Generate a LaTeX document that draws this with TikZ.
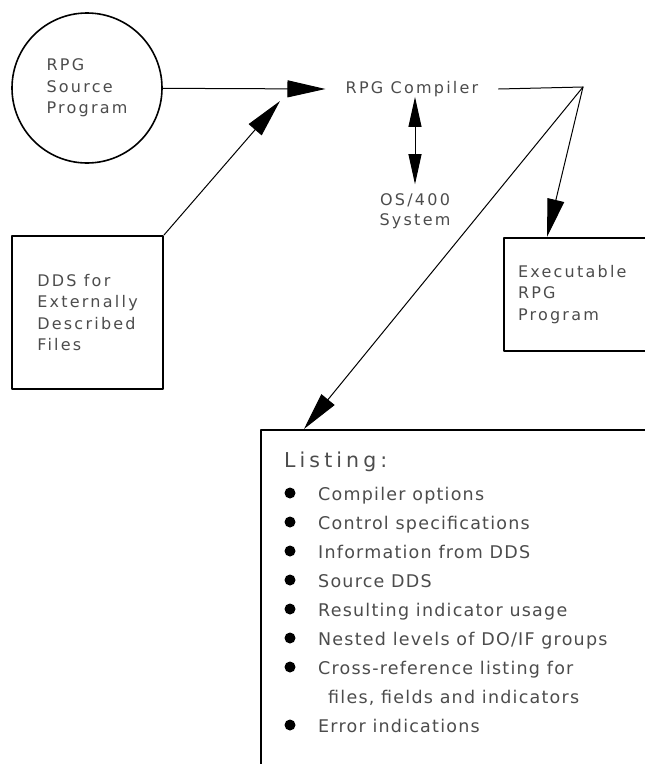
\documentclass[tikz,border=0pt]{standalone}
\usepackage{fontspec}
\setmainfont{DejaVu Sans}[LetterSpace=14]
\newfontfamily\listfont{DejaVu Sans}[LetterSpace=7]
\newfontfamily\titlefont{DejaVu Sans}[LetterSpace=20]
\usetikzlibrary{arrows.meta}

\begin{document}
\begin{tikzpicture}[line cap=round,line join=round,x=1pt,y=-1pt,
  >={Triangle[length=38pt,width=17pt]},
  txt/.style={text=black!70,font=\fontsize{16}{21.5}\selectfont,align=left,inner sep=0pt},
  box/.style={draw,line width=2pt},
  item/.style={text=black!70,font=\listfont\fontsize{17.5}{18}\selectfont,anchor=base west,inner sep=0pt},
  dot/.style={circle,fill,inner sep=0pt,minimum size=11pt}]
\useasboundingbox (0,0) rectangle (645,764);
\clip (0,0) rectangle (645,764);
\node[draw,circle,line width=1.6pt,minimum size=150pt,txt] (src) at (87,88) {RPG\\Source\\Program};
\node[box,minimum width=151pt,minimum height=153pt,txt] (dds) at (87.5,312.5) {DDS for\\Externally\\Described\\Files};
\node[txt,inner xsep=20pt] (comp) at (412,89) {RPG Compiler};
\node[txt,align=center,inner ysep=9pt,font=\fontsize{16}{20}\selectfont] (os) at (415,211) {OS/400\\System};
\node[box,txt,anchor=north west,minimum height=113pt,text width=170pt,inner xsep=14pt] (exe) at (503,237) {Executable\\RPG\\Program};
\node[box,anchor=north west,minimum width=420pt,minimum height=360pt] (lst) at (260,429) {};
% listing text
\node[item,font=\titlefont\fontsize{20.5}{21}\selectfont] (title) at (284,467) {Listing:};
\foreach \i/\t in {1/{Compiler options},2/{Control specifications},3/{Information from DDS},4/{Source DDS},5/{Resulting indicator usage},6/{Nested levels of DO/IF groups},7/{Cross-reference listing for},9/{Error indications}}{
  \node[dot] (dot\i) at (290,{500+29*(\i-1)-7}) {};
  \node[item] (item\i) at (318,{500+29*(\i-1)}) {\t};
}
\node[item] (item8) at (328,703) {files, fields and indicators};
% connectors
\coordinate (split) at (583,87);
\coordinate (in2) at (280,101);
\coordinate (exetop) at (547,237);
\coordinate (lsttop) at (304,429);
\draw[->,line width=1pt] (src) -- (comp.west);
\draw[->,line width=1pt] (dds.north east) -- (in2);
\draw[line width=1pt] (comp.east) -- (split);
\draw[->,line width=1pt] (split) -- (exetop);
\draw[->,line width=1pt] (split) -- (lsttop);
\draw[{Triangle[length=30pt,width=13pt]}-{Triangle[length=30pt,width=13pt]},line width=1pt] (os.north) -- (os.north |- comp.south);
\end{tikzpicture}
\end{document}
